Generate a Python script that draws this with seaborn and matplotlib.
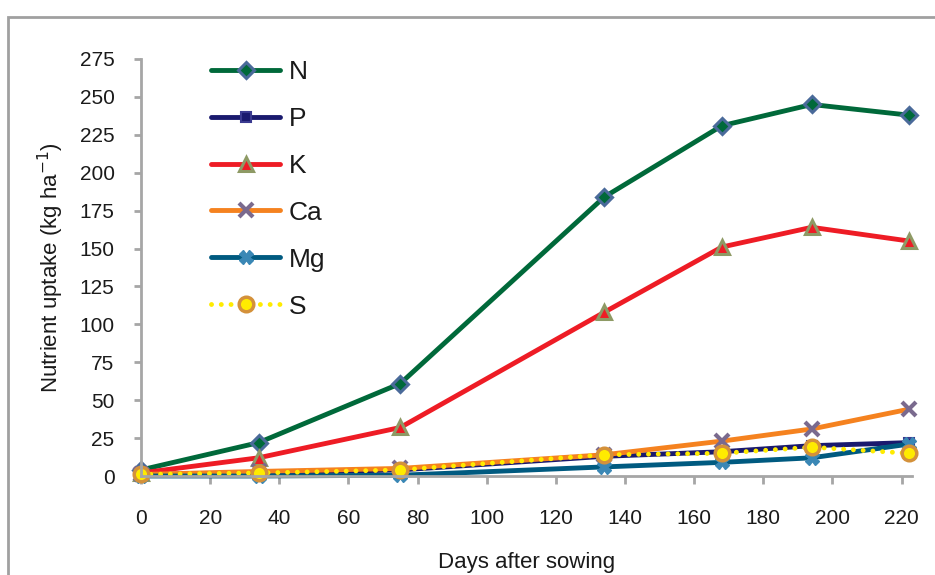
#Nutrient uptake over the growing season
import numpy as np
import pandas as pd
import matplotlib
matplotlib.use('Agg')
import matplotlib.pyplot as plt
import seaborn as sns
from matplotlib.patches import Rectangle

sns.set_style('white')
plt.rcParams['font.family'] = ['Liberation Sans', 'DejaVu Sans']

#Data
days = [0, 34, 75, 134, 168, 194, 222]
N = [4, 22, 61, 184, 231, 245, 238]
P = [1, 2, 4, 13, 16, 20, 22]
K = [2, 12, 32, 108, 151, 164, 155]
Ca = [1, 3, 5, 14, 23, 31, 44]
Mg = [0, 0, 0.5, 6, 9, 12, 21]
S = [1, 2, 4, 14, 15, 19, 15]

df = pd.DataFrame({'Days': days, 'N': N, 'P': P, 'K': K, 'Ca': Ca, 'Mg': Mg, 'S': S})

#Styles for each nutrient
styles = {
    'N':  dict(color='#00693a', marker='D', markersize=8.5, markerfacecolor='#00693a',
               markeredgecolor='#4a6a9a', markeredgewidth=2.2),
    'P':  dict(color='#1a1a6e', marker='s', markersize=7.5, markerfacecolor='#1a1a6e',
               markeredgecolor='#3a3a90', markeredgewidth=1.5),
    'K':  dict(color='#ee1c25', marker='^', markersize=10.5, markerfacecolor='#ee1c25',
               markeredgecolor='#8e9a65', markeredgewidth=2.2),
    'Ca': dict(color='#f5821f', marker='x', markersize=10, markeredgecolor='#7a6a8e',
               markeredgewidth=3),
    'Mg': dict(color='#005a80', marker='X', markersize=10, markerfacecolor='#3a87b5',
               markeredgecolor='#3a87b5', markeredgewidth=1),
    'S':  dict(color='#ffeb00', marker='o', markersize=10.5, markerfacecolor='#ffeb00',
               markeredgecolor='#d4913a', markeredgewidth=2.5,
               linestyle=(0, (0.01, 2.0)), dash_capstyle='round'),
}

fig = plt.figure(figsize=(9.35, 5.75), dpi=100)
ax = fig.add_axes([141/935, 1-476/575, (912-141)/935, (476-59)/575])

for c in ['N', 'P', 'K', 'Ca', 'Mg', 'S']:
    sns.lineplot(data=df, x='Days', y=c, ax=ax, label=c, linewidth=3.5,
                 clip_on=False, **styles[c])

ax.set_xlim(0, 223)
ax.set_ylim(0, 275)
ax.set_xticks(np.arange(0, 221, 20))
ax.set_yticks(np.arange(0, 276, 25))

for s in ['top', 'right']:
    ax.spines[s].set_visible(False)
for s in ['left', 'bottom']:
    ax.spines[s].set_color('#a6a6a6')
    ax.spines[s].set_linewidth(2)

ax.tick_params(axis='y', direction='out', length=5, width=2, color='#a6a6a6',
               labelsize=15, pad=14, left=True, labelcolor='#1a1a1a')
ax.tick_params(axis='x', direction='out', length=6, width=2, color='#a6a6a6',
               labelsize=15, pad=18, bottom=True, labelcolor='#1a1a1a')

ax.set_xlabel('Days after sowing', fontsize=16, labelpad=17, color='#1a1a1a')
ax.set_ylabel('Nutrient uptake (kg ha$^{-1}$)', fontsize=16, labelpad=10, color='#1a1a1a')

leg = ax.legend(loc='upper left', bbox_to_anchor=(0.0902, 0.998), frameon=False,
                fontsize=19, handlelength=2.65, labelspacing=0.87, borderpad=0,
                borderaxespad=0, handletextpad=0.3)
for t in leg.get_texts():
    t.set_color('#1a1a1a')

#Outer frame of the chart area
fig.patches.append(Rectangle((8/935, -0.1), 1.2, 1.1 - 17/575,
                             transform=fig.transFigure, fill=False,
                             edgecolor='#a0a0a0', linewidth=2))

fig.savefig('out.png', dpi=100)
